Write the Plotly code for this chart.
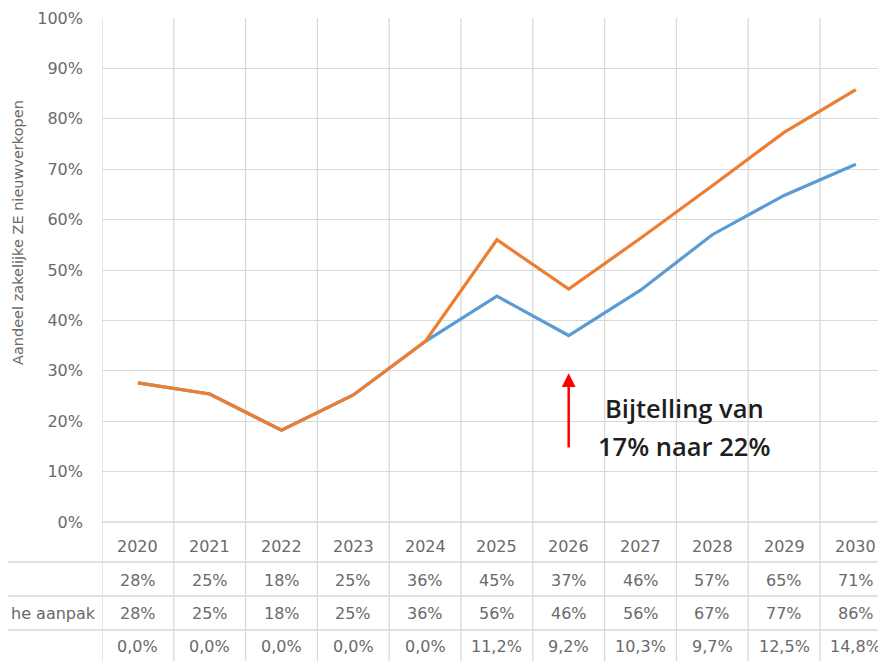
import plotly.graph_objects as go

years = ['2020', '2021', '2022', '2023', '2024', '2025', '2026', '2027', '2028', '2029', '2030']
basis = [27.6, 25.4, 18.2, 25.2, 35.8, 44.8, 37.0, 46.0, 57.0, 64.8, 71.0]
aanpak = [27.6, 25.4, 18.2, 25.2, 35.8, 56.0, 46.2, 56.3, 66.7, 77.3, 85.8]
verschil = ['0,0%', '0,0%', '0,0%', '0,0%', '0,0%', '11,2%', '9,2%', '10,3%', '9,7%', '12,5%', '14,8%']
row_label = 'he aanpak'
y_title = 'Aandeel zakelijke ZE nieuwverkopen'
note_lines = ['Bijtelling van', '17% naar 22%']

# page body adds an 8px margin, so the figure is a bit smaller than the window
off = 8
W, H = 886 - off, 661 - off
left, top, bottom = 102, 18, 522   # screen pixels of the plot area
ph = bottom - top
pw = 886 - left
col_w = 71.8


def py(pix):
    # screen row -> paper y
    return (bottom - pix) / ph


def px(pix):
    return (pix - left) / pw


grey = '#6a6a6a'
line_col = '#d9d9d9'
xs = list(range(len(years)))

fig = go.Figure()
fig.add_scatter(x=xs, y=basis, mode='lines', line=dict(color='#5b9bd5', width=3.2), showlegend=False)
fig.add_scatter(x=xs, y=aanpak, mode='lines', line=dict(color='#ed7d31', width=3.2), showlegend=False)

# vertical lines through chart and table
for i in range(len(years) + 1):
    fig.add_shape(type='line', xref='x', yref='paper', x0=i - 0.5, x1=i - 0.5, y0=1, y1=py(661),
                  line=dict(color=line_col, width=1.3), layer='below')

# table horizontal lines + 0% line
fig.add_shape(type='line', xref='paper', yref='paper', x0=0, x1=1, y0=0, y1=0,
              line=dict(color=line_col, width=1.3), layer='below')
for pix in [562, 596, 630]:
    fig.add_shape(type='line', xref='paper', yref='paper', x0=px(0), x1=1, y0=py(pix), y1=py(pix),
                  line=dict(color=line_col, width=1.3))

tfont = dict(size=16, color=grey, family='DejaVu Sans')
rows = [(546, years), (580, [f'{round(v)}%' for v in basis]),
        (613, [f'{round(v)}%' for v in aanpak]), (646, verschil)]
for pix, vals in rows:
    for i, t in enumerate(vals):
        fig.add_annotation(x=i, y=py(pix), xref='x', yref='paper', text=t, showarrow=False,
                           xanchor='center', yanchor='middle', font=tfont)

fig.add_annotation(x=px(98), y=py(613), xref='paper', yref='paper', text=row_label, showarrow=False,
                   xanchor='right', yanchor='middle', font=tfont)

fig.add_annotation(x=px(18), y=py(233), xref='paper', yref='paper', text=y_title, showarrow=False,
                   xanchor='center', yanchor='middle', textangle=-90,
                   font=dict(size=14.5, color=grey, family='DejaVu Sans'))

# red arrow
fig.add_annotation(x=6, y=29.5, ax=6, ay=14.5, xref='x', yref='y', axref='x', ayref='y', text='',
                   showarrow=True, arrowhead=2, arrowsize=1.1, arrowwidth=2.5, arrowcolor='#ff0000')
for pix, t in zip([408, 446], note_lines):
    fig.add_annotation(x=(684 - left) / col_w - 0.5, y=(bottom - pix) / (ph / 100), xref='x', yref='y',
                       text=t, showarrow=False,
                       font=dict(size=25.5, color='#1e1e1e', family='Open Sans', weight=600))

fig.update_xaxes(range=[-0.5, -0.5 + pw / col_w], showgrid=False, showticklabels=False, zeroline=False,
                 fixedrange=True, automargin=False)
fig.update_yaxes(range=[0, 100], dtick=10, ticksuffix='%', showgrid=True, gridcolor=line_col, gridwidth=1.3,
                 zeroline=False, tickfont=dict(size=16, color=grey, family='DejaVu Sans'), ticks='',
                 ticklabelstandoff=18, automargin=False)
fig.update_layout(width=W, height=H,
                  margin=dict(l=left - off, r=0, t=top - off, b=661 - bottom, autoexpand=False),
                  plot_bgcolor='white', paper_bgcolor='white',
                  font=dict(family='DejaVu Sans'))

fig.write_html('out.html')
